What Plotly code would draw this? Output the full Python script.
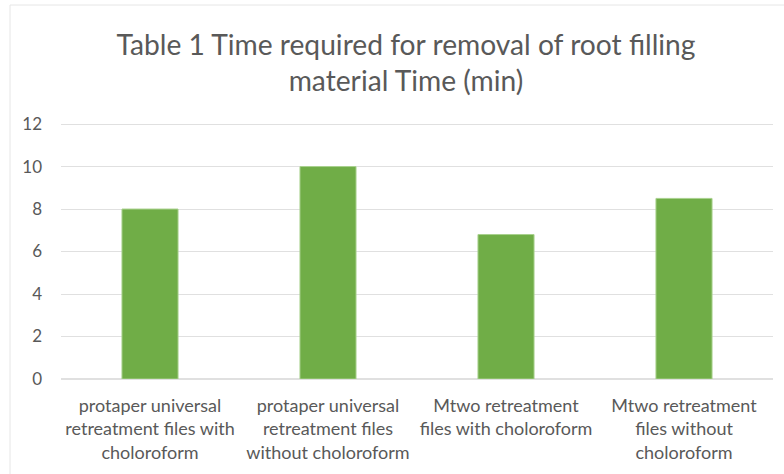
import plotly.graph_objects as go

categories = [
    "protaper universal<br>retreatment files with<br>choloroform",
    "protaper universal<br>retreatment files<br>without choloroform",
    "Mtwo retreatment<br>files with choloroform",
    "Mtwo retreatment<br>files without<br>choloroform",
]
values = [8, 10, 6.8, 8.5]
y_ticks = [0, 2, 4, 6, 8, 10, 12]

FONT = "Lato, 'Open Sans', sans-serif"
GRAY = "#595959"

W, H = 784, 474
L, R, T, B = 61, 11, 123, 95
PW, PH = W - L - R, H - T - B

fig = go.Figure()
fig.add_trace(go.Bar(
    x=categories, y=values,
    width=0.315,
    marker=dict(color="#70AD47", line=dict(color="#A9D18E", width=1)),
))

fig.update_layout(
    width=W, height=H,
    margin=dict(l=L, r=R, t=T, b=B, autoexpand=False),
    paper_bgcolor="white", plot_bgcolor="white",
    showlegend=False,
    title=dict(
        text="Table 1 Time required for removal of root filling<br>material Time (min)",
        x=(406 - L) / PW, xref="paper", xanchor="center", y=0.885, yanchor="middle",
        font=dict(family=FONT, size=28.2, color=GRAY),
    ),
    font=dict(family=FONT, color=GRAY),
    xaxis=dict(
        showgrid=False, showline=False, zeroline=False, ticks="", automargin=False,
        ticklabelstandoff=14,
        tickfont=dict(family=FONT, size=18, color=GRAY),
    ),
    yaxis=dict(
        range=[0, 12.05], tickvals=y_ticks, showgrid=True, gridcolor="#E0E0E0", gridwidth=1,
        zeroline=True, zerolinecolor="#E0E0E0", showline=False, ticks="", automargin=False,
        ticklabelstandoff=18,
        tickfont=dict(family=FONT, size=17, color=GRAY),
    ),
    shapes=[dict(
        type="rect", xref="paper", yref="paper",
        x0=(10 - L) / PW, x1=(W + 20 - L) / PW,
        y0=-(B + 20) / PH, y1=1 + (T - 5) / PH,
        line=dict(color="#E6E6E6", width=1), fillcolor="rgba(0,0,0,0)", layer="below",
    )],
)

fig.write_html(
    "out.html",
    config={"displayModeBar": False},
    post_script="document.body.style.margin='0';",
)
